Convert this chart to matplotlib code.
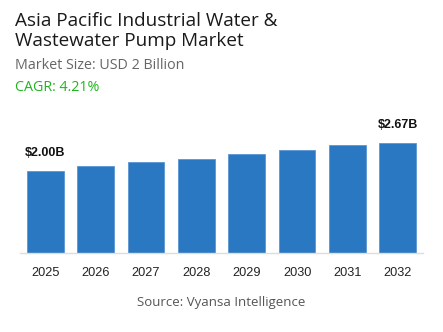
import matplotlib
matplotlib.use("Agg")
import matplotlib.pyplot as plt

# data
years = ["2025", "2026", "2027", "2028", "2029", "2030", "2031", "2032"]
values = [2.00, 2.12, 2.23, 2.30, 2.41, 2.52, 2.62, 2.67]
labels = {0: "$2.00B", 7: "$2.67B"}

W, H = 443, 332
fig = plt.figure(figsize=(W / 100, H / 100), dpi=100)

# axes placed in pixel terms
ax = fig.add_axes([20 / W, 78.7 / H, 403 / W, 143.3 / H])
x = range(len(years))
ax.bar(x, values, width=0.73, color="#2b78c2", edgecolor="#5a97d3", linewidth=0.6)
ax.set_xlim(-0.5, len(years) - 0.5)
ax.set_ylim(0, 143.3 / 41.15)

for i, txt in labels.items():
    ax.annotate(txt, (i, values[i]), xytext=(0, 9), textcoords="offset points",
                ha="center", va="bottom", fontsize=9, fontweight="bold",
                family="Liberation Sans", color="#111111")

for s in ["top", "right", "left"]:
    ax.spines[s].set_visible(False)
ax.spines["bottom"].set_color("#dddddd")
ax.spines["bottom"].set_linewidth(1)
ax.set_yticks([])
ax.set_xticks(list(x))
ax.set_xticklabels(years, family="Liberation Sans", fontsize=9.2, color="#222222")
ax.tick_params(axis="x", length=0, pad=10)

# header texts
fig.text(15 / W, 1 - 26 / H, "Asia Pacific Industrial Water &", fontsize=13.6,
         family="Open Sans", color="#1a1a1a", va="baseline")
fig.text(15 / W, 1 - 46.5 / H, "Wastewater Pump Market", fontsize=13.6,
         family="Open Sans", color="#1a1a1a", va="baseline")
fig.text(15 / W, 1 - 69 / H, "Market Size: USD 2 Billion", fontsize=10.3,
         family="Open Sans", color="#666666", va="baseline")
fig.text(15 / W, 1 - 90.5 / H, "CAGR: 4.21%", fontsize=10.3,
         family="Open Sans", color="#1fb51f", va="baseline")
fig.text(220.7 / W, 1 - 306 / H, "Source: Vyansa Intelligence", fontsize=9.5,
         family="Open Sans", color="#555555", ha="center", va="baseline")

fig.savefig("out.png", dpi=100)
